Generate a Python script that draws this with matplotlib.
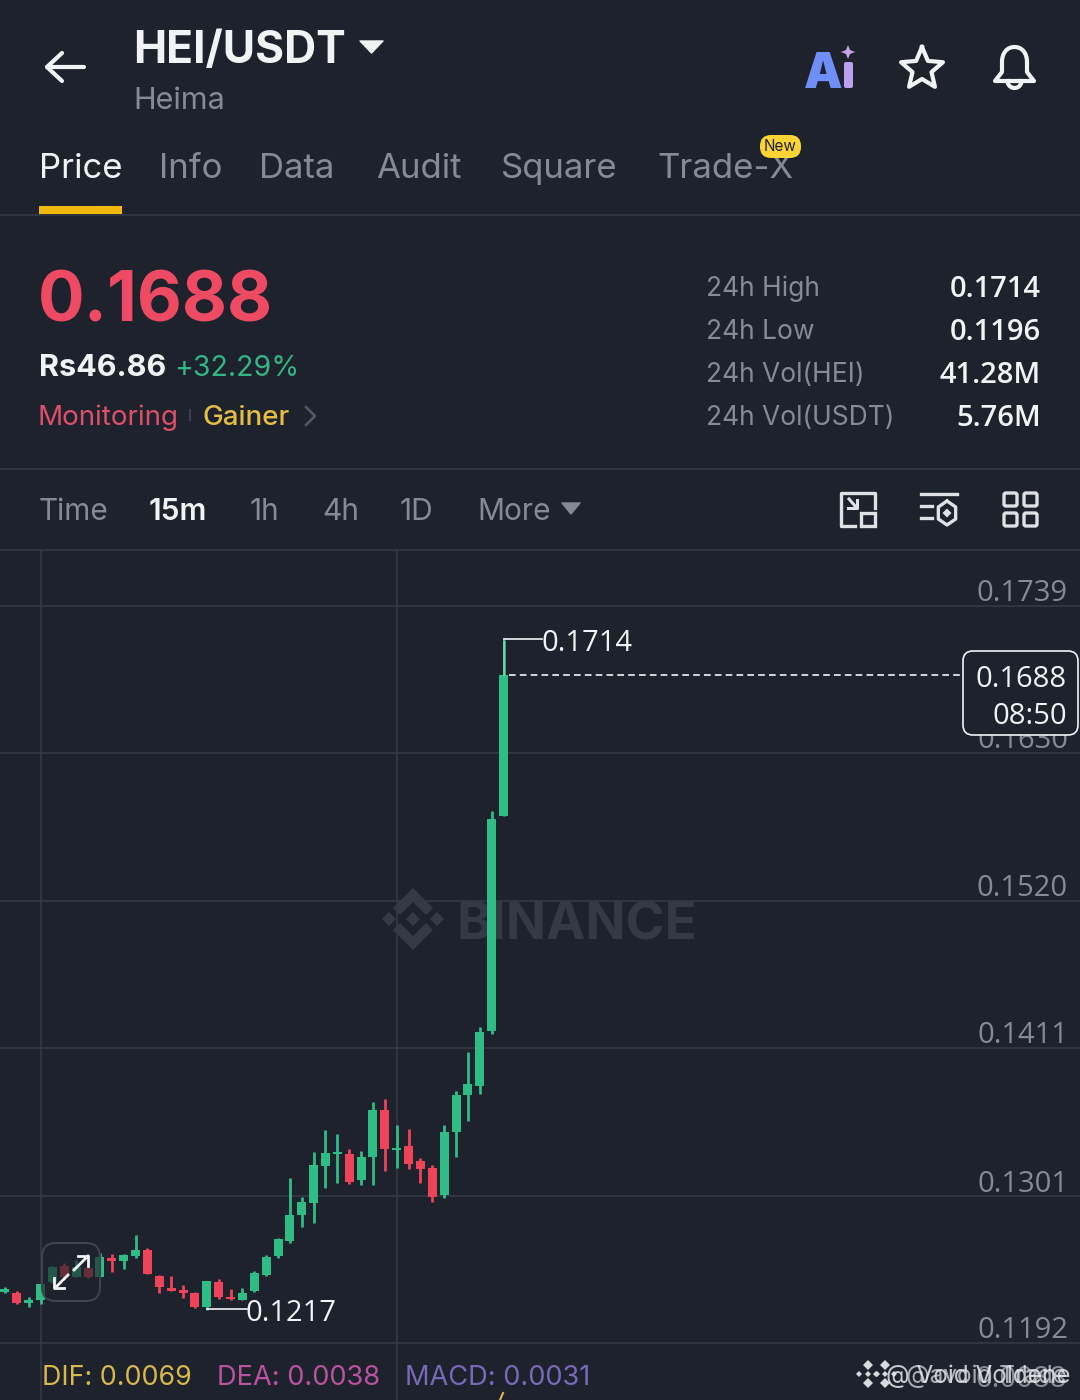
import matplotlib
matplotlib.use("Agg")
import matplotlib.pyplot as plt
import numpy as np
from matplotlib.patches import FancyBboxPatch, Polygon, Rectangle, PathPatch
from matplotlib.path import Path

plt.rcParams['font.family'] = ['Inter', 'DejaVu Sans']
NUM = ['Open Sans', 'DejaVu Sans']

# ---- data ----
opens = [.12301,.12294,.12220,.12239,.12375,.12492,.12412,.12474,.12412,.12548,.12526,.12568,.12610,.12417,.12326,
         .12314,.12294,.12190,.12373,.12264,.12239,.12304,.12427,.12566,.12675,.12870,.12961,.13233,.13325,.13323,
         .13130,.13303,.13649,.13350,.13382,.13271,.13221,.13018,.13483,.13760,.13827,.14235,.15830]
highs = [.12333,.12309,.12264,.12358,.12492,.12516,.12536,.12499,.12591,.12581,.12581,.12722,.12625,.12427,.12417,
         .12351,.12299,.12378,.12398,.12318,.12326,.12457,.12571,.12697,.13142,.13001,.13340,.13501,.13471,.13357,
         .13347,.13708,.13728,.13538,.13510,.13290,.13241,.13538,.13790,.14079,.14265,.15867,.17136]
lows  = [.12289,.12210,.12190,.12210,.12363,.12388,.12408,.12400,.12408,.12450,.12467,.12548,.12430,.12289,.12309,
         .12252,.12177,.12165,.12244,.12239,.12239,.12299,.12417,.12548,.12665,.12778,.12808,.13068,.13105,.13100,
         .13090,.13090,.13199,.13219,.13209,.13105,.12969,.12994,.13298,.13567,.13768,.14213,.15830]
closes= [.12318,.12220,.12239,.12358,.12482,.12412,.12487,.12412,.12556,.12531,.12576,.12610,.12430,.12333,.12309,
         .12289,.12190,.12378,.12259,.12244,.12289,.12442,.12561,.12689,.12870,.12969,.13238,.13327,.13340,.13117,
         .13298,.13649,.13362,.13367,.13248,.13209,.13006,.13488,.13760,.13842,.14228,.15808,.16877]
price_ticks = [0.1739, 0.1630, 0.1520, 0.1411, 0.1301, 0.1192]
tick_labels = ['0.1739', '0.1630', '0.1520', '0.1411', '0.1301', '0.1192']
vgrid_idx = [3, 33]
stats_names = ['24h High', '24h Low', '24h Vol(HEI)', '24h Vol(USDT)']
stats_vals = ['0.1714', '0.1196', '41.28M', '5.76M']
tabs = ['Price', 'Info', 'Data', 'Audit', 'Square', 'Trade-X']
tab_x = [40, 160, 260, 377, 502, 658]
intervals = ['Time', '15m', '1h', '4h', '1D', 'More']
interval_x = [39, 149, 250, 322, 400, 477]
last_price = 0.1688
high_price = 0.1714
low_price = 0.1217

BG = '#1d222c'
GRID = '#333842'
GREEN = '#2fbd85'
RED = '#ee4358'
GREY = '#858b95'
WHITE = '#f2f3f5'

fig = plt.figure(figsize=(10.8, 14), dpi=100, facecolor=BG)

# ---- price chart axes (px 0..1080, 550..1400) ----
ax = fig.add_axes([0, 0, 1, 850 / 1400])
ax.set_facecolor('none')
ax.set_xlim(-0.42, 90.56)
ax.set_ylim(0.11497, 0.17804)
ax.axis('off')
for p in price_ticks:
    ax.axhline(p, color=GRID, lw=1.2, zorder=1)
for i in vgrid_idx:
    ax.axvline(i, color=GRID, lw=1.2, zorder=1)

ui = fig.add_axes([0, 0, 1, 1], zorder=0)
ui.set_xlim(0, 1080)
ui.set_ylim(1400, 0)
ui.axis('off')
ui.set_facecolor(BG)
ax.set_zorder(1)
top = fig.add_axes([0, 0, 1, 1], zorder=2)
top.set_xlim(0, 1080)
top.set_ylim(1400, 0)
top.axis('off')
top.patch.set_alpha(0)

def T(a, x, y, s, size, color, ha='left', weight='normal', va='center', **k):
    return a.text(x, y + 0.15 * size, s, fontsize=size, color=color, ha=ha, va=va, fontweight=weight, **k)

def diamond(a, cx, cy, r, col):
    a.add_patch(Polygon([(cx - r, cy), (cx, cy - r), (cx + r, cy), (cx, cy + r)], fc=col, ec='none'))

# watermark
WM = '#343943'
cx, cy = 413, 919
diamond(ui, cx, cy, 7, WM)
diamond(ui, cx - 24, cy, 7, WM)
diamond(ui, cx + 24, cy, 7, WM)
for sgn in (-1, 1):
    ui.add_patch(Polygon([(cx, cy + sgn * 31), (cx + 20, cy + sgn * 11), (cx + 13, cy + sgn * 4), (cx, cy + sgn * 17),
                          (cx - 13, cy + sgn * 4), (cx - 20, cy + sgn * 11)], fc=WM, ec='none'))
T(ui, 457, 920, 'BINANCE', 38, WM, weight='bold')

# candles
idx = np.arange(len(opens))
o, h, l, c = map(np.array, (opens, highs, lows, closes))
cols = [GREEN if cc >= oo else RED for oo, cc in zip(o, c)]
ax.vlines(idx, l, h, colors=cols, lw=2.0, zorder=3)
ax.bar(idx, np.abs(c - o), bottom=np.minimum(o, c), width=0.76, color=cols, lw=0, zorder=3)

# price line and markers
ax.plot([42.5, 81.2], [last_price, last_price], color=WHITE, lw=1.2, dashes=(4, 2.5), zorder=4)
ax.plot([42, 42], [last_price, high_price], color=WHITE, lw=1.2, alpha=0.45, zorder=4)
ax.plot([42, 45.2], [high_price, high_price], color=WHITE, lw=1.2, zorder=4)
ax.plot([17, 20.4], [low_price, low_price], color=WHITE, lw=1.2, zorder=4)
ax.text(45.2, high_price - 0.00028, '0.1714', fontsize=21, color=WHITE, va='center', zorder=5, family=NUM)
ax.text(20.3, low_price - 0.00028, '0.1217', fontsize=21, color=WHITE, va='center', zorder=5, family=NUM)

# y tick labels
for p, s in zip(price_ticks, tick_labels):
    ax.text(89.55, p - 0.00018, s, fontsize=21, color=GREY, ha='right', va='bottom', zorder=2, family=NUM)

# last price box
top.add_patch(FancyBboxPatch((963, 651), 115, 84, boxstyle='round,pad=0,rounding_size=10', fc=BG, ec=WHITE, lw=1.2))
T(top, 1067, 676, '0.1688', 21, WHITE, ha='right', family=NUM)
T(top, 1067, 713, '08:50', 21, WHITE, ha='right', family=NUM)

# expand button
top.add_patch(FancyBboxPatch((42, 1243), 58, 58, boxstyle='round,pad=0,rounding_size=14', fc=BG, alpha=0.65, ec='none'))
top.add_patch(FancyBboxPatch((42, 1243), 58, 58, boxstyle='round,pad=0,rounding_size=14', fc='none', ec='#3d424c', lw=1.5))
for pts in ([(74, 1270), (88, 1256)], [(55, 1288), (68, 1275)]):
    top.plot(*zip(*pts), color=WHITE, lw=2)
top.plot([78, 88, 88], [1256, 1256, 1266], color=WHITE, lw=2)
top.plot([54, 54, 64], [1278, 1288, 1288], color=WHITE, lw=2)

# header
top.plot([47, 84], [67, 67], color=WHITE, lw=3, solid_capstyle='round')
top.plot([62, 47, 62], [53, 67, 81], color=WHITE, lw=3, solid_capstyle='round', solid_joinstyle='round')
T(ui, 133, 46, 'HEI/USDT', 32, WHITE, weight='bold')
ui.add_patch(Polygon([(360, 41), (383, 41), (371.5, 53)], fc=WHITE, ec=WHITE, lw=1, joinstyle='round'))
T(ui, 133, 98, 'Heima', 22, GREY)
ui.text(804, 88, 'A', fontsize=35, color='#6f8ff7', ha='left', va='baseline', fontweight='black')
ui.add_patch(FancyBboxPatch((844, 62), 9, 26, boxstyle='round,pad=0,rounding_size=2', fc='#bba0ef', ec='none'))
ui.add_patch(Polygon([(848, 45), (850, 50), (855, 52), (850, 54), (848, 59), (846, 54), (841, 52), (846, 50)], fc='#c9a0ea', ec='none'))
ang = np.deg2rad(np.arange(11) * 36 - 90)
rad = np.where(np.arange(11) % 2 == 0, 22, 10)
ui.plot(922 + rad * np.cos(ang), 69 + rad * np.sin(ang), color=WHITE, lw=3, solid_joinstyle='round')
bell = Path([(995, 81), (1002, 72), (1002, 62),
             (1002, 53), (1007, 47), (1014.5, 47), (1022, 47), (1027, 53), (1027, 62),
             (1027, 72), (1034, 81), (995, 81)],
            [Path.MOVETO, Path.LINETO, Path.LINETO,
             Path.CURVE4, Path.CURVE4, Path.CURVE4, Path.CURVE4, Path.CURVE4, Path.CURVE4,
             Path.LINETO, Path.LINETO, Path.CLOSEPOLY])
ui.add_patch(PathPatch(bell, fc='none', ec=WHITE, lw=3, joinstyle='round'))
t = np.linspace(0, np.pi, 20)
ui.plot(1014.5 + 7 * np.cos(t), 81 + 7 * np.sin(t), color=WHITE, lw=3)

# tabs
for i, (s, x) in enumerate(zip(tabs, tab_x)):
    T(ui, x - 1, 165, s, 25, WHITE if i == 0 else GREY)
ui.add_patch(Rectangle((39, 206), 83, 8, fc='#f0b90b', ec='none'))
ui.plot([0, 1080], [214.5, 214.5], color=GRID, lw=1.2)
ui.add_patch(FancyBboxPatch((760, 135), 41, 23, boxstyle='round,pad=0,rounding_size=11', fc='#fcd535', ec='none', zorder=4))
T(ui, 780.5, 145, 'New', 11, '#1d222c', ha='center', zorder=5)

# price header
T(ui, 38, 295, '0.1688', 50, '#ef4a63', weight='bold')
T(ui, 39, 365, 'Rs46.86', 22, WHITE, weight='bold')
T(ui, 174, 365, '+32.29%', 20.5, '#35b585')
T(ui, 38, 415, 'Monitoring', 20, '#de4f69')
ui.plot([190, 190], [410, 420], color='#3a3f49', lw=1.5)
T(ui, 203, 415, 'Gainer', 20, '#e5bd45', weight='medium')
ui.plot([306, 315, 306], [407, 416, 425], color='#555b66', lw=1.8)
for y, n, v in zip([286, 329, 372, 415], stats_names, stats_vals):
    T(ui, 706, y, n, 19, GREY)
    T(ui, 1041, y, v, 21, WHITE, ha='right', weight='semibold', family=NUM)
ui.plot([0, 1080], [468.5, 468.5], color=GRID, lw=1.2)

# intervals
for s, x in zip(intervals, interval_x):
    T(ui, x, 509, s, 21.5, WHITE if s == '15m' else GREY, weight='semibold' if s == '15m' else 'normal')
ui.add_patch(Polygon([(562, 503), (580, 503), (571, 514)], fc=GREY, ec=GREY, lw=1, joinstyle='round'))
ui.plot([0, 1080], [549.5, 549.5], color=GRID, lw=1.2)
ic = '#dfe1e5'
ui.plot([875, 875, 841, 841, 855], [508, 493, 493, 526, 526], color=ic, lw=2.4)
ui.add_patch(Rectangle((861, 513), 14, 13, fc=BG, ec=ic, lw=2.4))
ui.plot([849, 856], [499, 507], color=ic, lw=2.2)
ui.plot([848, 857, 857], [508, 508, 500], color=ic, lw=2.2)
ui.plot([921, 957], [494, 494], color=ic, lw=2.4)
ui.plot([921, 932], [506, 506], color=ic, lw=2.4)
ui.plot([921, 932], [518, 518], color=ic, lw=2.4)
hx = np.deg2rad(np.arange(7) * 60 - 90)
ui.plot(947 + 10 * np.cos(hx), 513 + 12 * np.sin(hx), color=ic, lw=2.4)
diamond(ui, 947, 513, 4.5, ic)
for x0 in (1004, 1024):
    for y0 in (493, 513):
        ui.add_patch(FancyBboxPatch((x0, y0), 13, 13, boxstyle='round,pad=0,rounding_size=2', fc='none', ec=ic, lw=2.4))

# indicator legend
T(top, 42, 1375, 'DIF: 0.0069', 19.3, '#d8b84a')
T(top, 217, 1375, 'DEA: 0.0038', 19.6, '#b9529f')
T(top, 405, 1375, 'MACD: 0.0031', 19.6, '#7a68b8')
top.plot([500, 503], [1400, 1393], color='#d8b84a', lw=1.5)
T(ui, 1067, 1376, '0.0088', 21, GREY, ha='right', family=NUM)
for lx in (868, 885):
    diamond(top, lx, 1365, 5, '#d8dade')
    diamond(top, lx - 9, 1374, 3, '#d8dade')
    diamond(top, lx + 9, 1374, 3, '#d8dade')
    diamond(top, lx, 1374, 3, '#d8dade')
    diamond(top, lx, 1383, 5, '#d8dade')
T(top, 886, 1374, '@ Void Voldene', 17.5, '#e6e7ea', alpha=0.85)
T(top, 906, 1374, '@avoid Trade', 17.5, '#e6e7ea', alpha=0.7)

fig.savefig('out.png', dpi=100, facecolor=BG)
